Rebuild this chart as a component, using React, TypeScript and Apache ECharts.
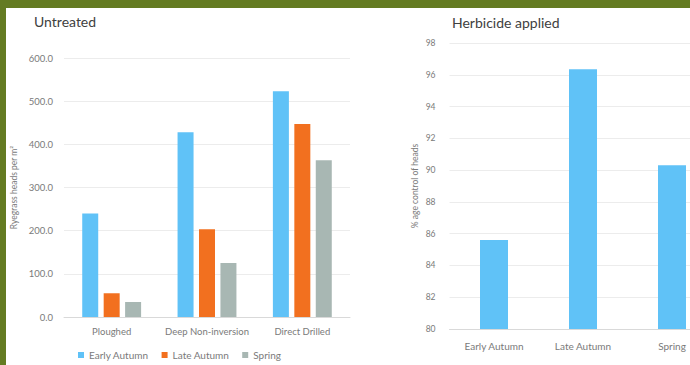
import React, { useEffect, useRef } from "react";
import * as echarts from "echarts";

const cultivations = ["Ploughed", "Deep Non-inversion", "Direct Drilled"];
const earlyAutumn = [240, 428, 523];
const lateAutumn = [55, 203, 447];
const spring = [35, 125, 363];

const timings = ["Early Autumn", "Late Autumn", "Spring"];
const control = [85.6, 96.35, 90.3];

const leftTicks = { min: 0, max: 600, interval: 100 };
const rightTicks = { min: 80, max: 98, interval: 2 };

const C_EARLY = "#60c2f7";
const C_LATE = "#f2701f";
const C_SPRING = "#a8b7b3";
const FONT = "Lato";

export default function App() {
  const ref = useRef<HTMLDivElement>(null);
  useEffect(() => {
    document.body.style.margin = "0";
    const chart = echarts.init(ref.current!, null, { renderer: "svg" });
    const axisLabel = { color: "#7a7a7a", fontSize: 9.5, fontFamily: FONT };
    chart.setOption({
      animation: false,
      backgroundColor: "#ffffff",
      textStyle: { fontFamily: FONT },
      title: [
        { text: "Untreated", left: 29, top: 9, textStyle: { fontSize: 14, fontWeight: "normal", color: "#404040", fontFamily: FONT } },
        { text: "Herbicide applied", left: 447, top: 10, textStyle: { fontSize: 14, fontWeight: "normal", color: "#404040", fontFamily: FONT } },
      ],
      legend: {
        data: ["Early Autumn", "Late Autumn", "Spring"],
        left: 73,
        top: 345,
        itemWidth: 6,
        itemHeight: 6,
        itemGap: 13,
        icon: "rect",
        textStyle: { fontSize: 10, color: "#7a7a7a", fontFamily: FONT },
      },
      grid: [
        { left: 64, top: 58, width: 286, height: 259, outerBoundsMode: "none" },
        { left: 449.5, top: 43, width: 267, height: 286, outerBoundsMode: "none" },
      ],
      xAxis: [
        {
          gridIndex: 0, type: "category", data: cultivations,
          axisLine: { lineStyle: { color: "#d9d9d9" } }, axisTick: { show: false },
          axisLabel: { ...axisLabel, interval: 0, hideOverlap: false, margin: 9 },
        },
        {
          gridIndex: 1, type: "category", data: timings,
          axisLine: { lineStyle: { color: "#d9d9d9" } }, axisTick: { show: false },
          axisLabel: { ...axisLabel, interval: 0, fontSize: 10, margin: 12 },
        },
      ],
      yAxis: [
        {
          gridIndex: 0, type: "value", ...leftTicks,
          name: "Ryegrass heads per m²", nameLocation: "middle", nameGap: 46, nameMoveOverlap: false,
          nameTextStyle: { fontSize: 8.5, color: "#7a7a7a", fontFamily: FONT },
          axisLabel: { ...axisLabel, formatter: (v: number) => v.toFixed(1), margin: 11 },
          splitLine: { lineStyle: { color: "#ececec" } },
        },
        {
          gridIndex: 1, type: "value", ...rightTicks,
          name: "% age control of heads", nameLocation: "middle", nameGap: 30, nameMoveOverlap: false,
          nameTextStyle: { fontSize: 8.5, color: "#7a7a7a", fontFamily: FONT },
          axisLabel: { ...axisLabel, fontSize: 8.5, margin: 14 },
          splitLine: { lineStyle: { color: "#ececec" } },
        },
      ],
      series: [
        { name: "Early Autumn", type: "bar", xAxisIndex: 0, yAxisIndex: 0, data: earlyAutumn, barWidth: 16, barGap: "34%", itemStyle: { color: C_EARLY } },
        { name: "Late Autumn", type: "bar", xAxisIndex: 0, yAxisIndex: 0, data: lateAutumn, barWidth: 16, barGap: "34%", itemStyle: { color: C_LATE } },
        { name: "Spring", type: "bar", xAxisIndex: 0, yAxisIndex: 0, data: spring, barWidth: 16, barGap: "34%", itemStyle: { color: C_SPRING } },
        { name: "Control", type: "bar", xAxisIndex: 1, yAxisIndex: 1, data: control, barWidth: 28, itemStyle: { color: C_EARLY } },
      ],
      graphic: [
        { type: "rect", left: 0, top: 0, shape: { width: 690, height: 8 }, style: { fill: "#647b22" }, z: 100 },
        { type: "rect", left: 0, top: 0, shape: { width: 6, height: 365 }, style: { fill: "#647b22" }, z: 100 },
      ],
    });
    return () => chart.dispose();
  }, []);
  return <div ref={ref} style={{ position: "absolute", left: 0, top: 0, width: 690, height: 365 }} />;
}
